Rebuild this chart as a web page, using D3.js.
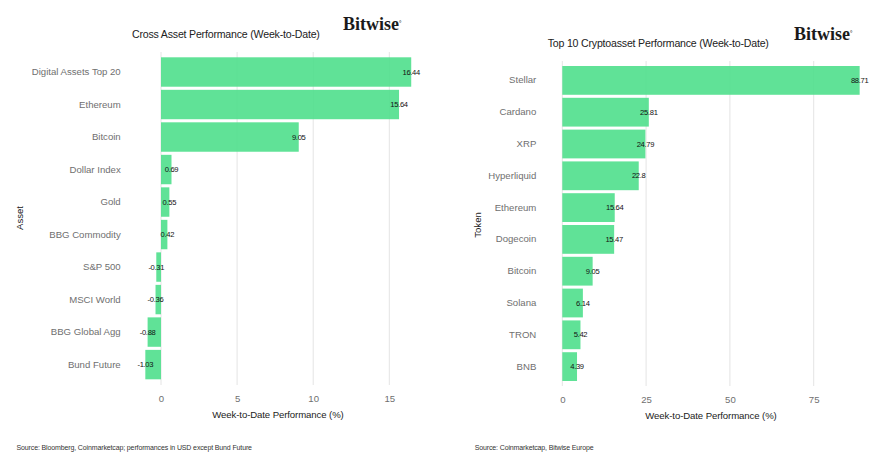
<!doctype html>
<meta charset=utf8>
<title>Bitwise weekly performance</title>
<style>
  html, body { margin: 0; background: white; }
  svg { display: block; font-family: "Liberation Sans", Arial, sans-serif; }
  .tick text { fill: #6f6f6f; }
  .domain { display: none; }
</style>
<svg width=884 height=466></svg>
<script src=https://d3js.org/d3.v7.min.js></script>
<script>
  var assets = ['Digital Assets Top 20', 'Ethereum', 'Bitcoin', 'Dollar Index', 'Gold', 'BBG Commodity', 'S&P 500', 'MSCI World', 'BBG Global Agg', 'Bund Future'];
  var assetValues = [16.44, 15.64, 9.05, 0.69, 0.55, 0.42, -0.31, -0.36, -0.88, -1.03];
  var assetTicks = [0, 5, 10, 15];

  var tokens = ['Stellar', 'Cardano', 'XRP', 'Hyperliquid', 'Ethereum', 'Dogecoin', 'Bitcoin', 'Solana', 'TRON', 'BNB'];
  var tokenValues = [88.71, 25.81, 24.79, 22.8, 15.64, 15.47, 9.05, 6.14, 5.42, 4.39];
  var tokenTicks = [0, 25, 50, 75];

  var svg = d3.select('svg');

  drawPanel({
    names: assets, values: assetValues, ticks: assetTicks,
    x0: 161, xLast: 389.3, barTop: 57.3, barBottom: 379.3, gridTop: 52, gridBottom: 385,
    labelX: 120.7, tickY: 399, xTitleX: 278, xTitleY: 414.5,
    yTitle: 'Asset', yTitleX: 20, yTitleY: 218,
    title: 'Cross Asset Performance (Week-to-Date)', titleX: 132, titleY: 34,
    logoX: 343, logoY: 24,
    source: 'Source: Bloomberg, Coinmarketcap; performances in USD except Bund Future', sourceX: 16.5
  });

  drawPanel({
    names: tokens, values: tokenValues, ticks: tokenTicks,
    x0: 562.3, xLast: 813.7, barTop: 66, barBottom: 381, gridTop: 61, gridBottom: 386,
    labelX: 536.3, tickY: 400.5, xTitleX: 711, xTitleY: 415.5,
    yTitle: 'Token', yTitleX: 478, yTitleY: 225,
    title: 'Top 10 Cryptoasset Performance (Week-to-Date)', titleX: 547.7, titleY: 43.5,
    logoX: 794, logoY: 34,
    source: 'Source: Coinmarketcap, Bitwise Europe', sourceX: 474.7
  });

  function drawPanel(p) {
    var lastTick = p.ticks[p.ticks.length - 1];
    var x = d3.scaleLinear().domain([0, lastTick]).range([p.x0, p.xLast]);
    var y = d3.scaleBand().domain(p.names).range([p.barTop, p.barBottom]).paddingInner(0.095).paddingOuter(0);
    var rows = p.names.map(function (name, i) {
      return { name: name, value: p.values[i] };
    });
    var g = svg.append('g');

    // gridlines sit under the bars and show faintly through them
    g.selectAll('line.grid')
      .data(p.ticks)
      .enter()
      .append('line')
      .attr('class', 'grid')
      .attr('x1', x)
      .attr('x2', x)
      .attr('y1', p.gridTop)
      .attr('y2', p.gridBottom)
      .attr('stroke', '#e4e4e4')
      .attr('stroke-width', 1);

    g.selectAll('rect')
      .data(rows)
      .enter()
      .append('rect')
      .attr('x', function (d) { return Math.min(x(0), x(d.value)); })
      .attr('y', function (d) { return y(d.name); })
      .attr('width', function (d) { return Math.abs(x(d.value) - x(0)); })
      .attr('height', y.bandwidth())
      .attr('fill', '#4fdf8c')
      .attr('fill-opacity', 0.9);

    g.selectAll('text.value')
      .data(rows)
      .enter()
      .append('text')
      .attr('class', 'value')
      .attr('x', function (d) { return x(d.value); })
      .attr('y', function (d) { return y(d.name) + y.bandwidth() / 2; })
      .attr('dy', '0.35em')
      .attr('text-anchor', 'middle')
      .attr('font-size', 7.6)
      .attr('letter-spacing', -0.3)
      .attr('fill', '#111')
      .text(function (d) { return d.value; });

    g.append('g')
      .attr('transform', 'translate(' + p.labelX + ',0)')
      .call(d3.axisLeft(y).tickSize(0).tickPadding(0))
      .attr('font-family', null)
      .attr('font-size', 9.6);

    g.append('g')
      .attr('transform', 'translate(0,' + (p.tickY - 4) + ')')
      .call(d3.axisBottom(x).tickValues(p.ticks).tickSize(0).tickPadding(0).tickFormat(d3.format('d')))
      .attr('font-family', null)
      .attr('font-size', 9.6)
      .selectAll('text')
      .attr('y', 0)
      .attr('dy', '0.71em');

    g.append('text')
      .attr('x', p.xTitleX)
      .attr('y', p.xTitleY)
      .attr('dy', '0.35em')
      .attr('text-anchor', 'middle')
      .attr('font-size', 9.6)
      .attr('letter-spacing', -0.1)
      .attr('fill', '#222')
      .text('Week-to-Date Performance (%)');

    g.append('text')
      .attr('transform', 'translate(' + p.yTitleX + ',' + p.yTitleY + ') rotate(-90)')
      .attr('dy', '0.35em')
      .attr('text-anchor', 'middle')
      .attr('font-size', 9.6)
      .attr('fill', '#222')
      .text(p.yTitle);

    g.append('text')
      .attr('x', p.titleX)
      .attr('y', p.titleY)
      .attr('dy', '0.35em')
      .attr('font-size', 10.6)
      .attr('letter-spacing', -0.2)
      .attr('fill', '#222')
      .text(p.title);

    var logo = g.append('text')
      .attr('x', p.logoX)
      .attr('y', p.logoY)
      .attr('dy', '0.35em')
      .attr('font-family', '"Liberation Serif", serif')
      .attr('font-weight', 'bold')
      .attr('font-size', 18)
      .attr('fill', '#1a1a1a')
      .text('Bitwise');
    logo.append('tspan').attr('font-size', 6).attr('dy', '-0.9em').text('°');

    g.append('text')
      .attr('x', p.sourceX)
      .attr('y', 447.7)
      .attr('dy', '0.35em')
      .attr('font-size', 7)
      .attr('letter-spacing', -0.13)
      .attr('fill', '#333')
      .text(p.source);
  }
</script>
